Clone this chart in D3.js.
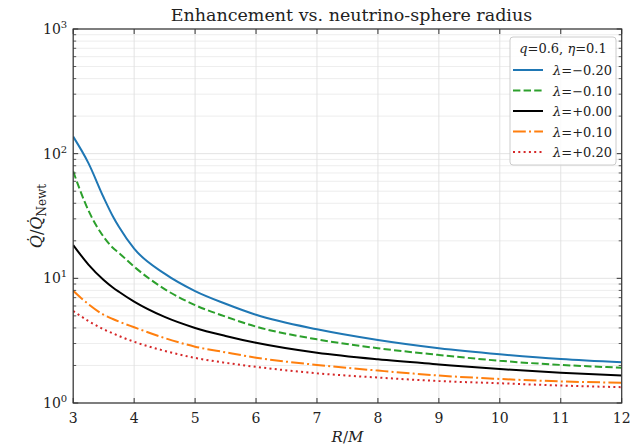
<!DOCTYPE html>
<html><head><meta charset="utf-8">
<script src="https://cdn.jsdelivr.net/npm/d3@7"></script>
<style>
body{margin:0;background:#fff;}
text{font-family:"DejaVu Serif",serif;fill:#222;}
</style></head>
<body><svg id="c" width="644" height="445"></svg>
<script>
const radii = [3, 3.25, 3.5, 3.65, 3.75, 4, 4.5, 5, 5.5, 6, 7, 8, 9, 10, 11, 12];
const lamM020 = [137, 84, 44.5, 31.5, 25.9, 17.3, 10.9, 7.9, 6.25, 5.1, 3.9, 3.2, 2.75, 2.46, 2.25, 2.12];
const lamM010 = [72, 35, 21.5, 17.6, 16.0, 12.4, 8.2, 6.1, 4.93, 4.1, 3.24, 2.75, 2.43, 2.18, 2.02, 1.92];
const lamP000 = [18.5, 12.9, 9.7, 8.45, 7.8, 6.5, 4.9, 4.0, 3.45, 3.04, 2.53, 2.24, 2.04, 1.87, 1.75, 1.66];
const lamP010 = [7.95, 6.2, 5.1, 4.72, 4.5, 4.05, 3.32, 2.83, 2.55, 2.31, 2.02, 1.82, 1.66, 1.56, 1.49, 1.455];
const lamP020 = [5.47, 4.55, 3.9, 3.62, 3.45, 3.10, 2.62, 2.3, 2.1, 1.95, 1.73, 1.60, 1.50, 1.44, 1.38, 1.34];
const seriesLabels = ["\u03bb=\u22120.20","\u03bb=\u22120.10","\u03bb=+0.00","\u03bb=+0.10","\u03bb=+0.20"];
const xTicks = [3,4,5,6,7,8,9,10,11,12];
const yMajor = [1,10,100,1000];
const yExp = ["0","1","2","3"];

const series = [
  {v:lamM020, label:seriesLabels[0], color:"#1f77b4", dash:null},
  {v:lamM010, label:seriesLabels[1], color:"#2ca02c", dash:"7.4,3.2"},
  {v:lamP000, label:seriesLabels[2], color:"#000000", dash:null},
  {v:lamP010, label:seriesLabels[3], color:"#ff7f0e", dash:"12.8,3.2,2,3.2"},
  {v:lamP020, label:seriesLabels[4], color:"#d62728", dash:"2,3.3"}
];

const L=73.2,R=621.7,T=29,B=403;
const svg=d3.select("#c");
const x=d3.scaleLinear().domain([3,12]).range([L,R]);
const y=d3.scaleLog().domain([1,1000]).range([B,T]);

const yMinor=[];
for(const d of [1,10,100]) for(let k=2;k<=9;k++) yMinor.push(d*k);

// grid
const g=svg.append("g");
g.selectAll(".gmy").data(yMinor).join("line").attr("x1",L).attr("x2",R)
  .attr("y1",d=>y(d)).attr("y2",d=>y(d)).attr("stroke","#e8e8e8").attr("stroke-width",0.8);
g.selectAll(".gMy").data(yMajor).join("line").attr("x1",L).attr("x2",R)
  .attr("y1",d=>y(d)).attr("y2",d=>y(d)).attr("stroke","#e0e0e0").attr("stroke-width",0.9);
g.selectAll(".gx").data(xTicks).join("line").attr("y1",T).attr("y2",B)
  .attr("x1",d=>x(d)).attr("x2",d=>x(d)).attr("stroke","#e0e0e0").attr("stroke-width",0.9);

// lines
svg.append("clipPath").attr("id","cp").append("rect").attr("x",L).attr("y",T).attr("width",R-L).attr("height",B-T);
const line=d3.line().x((d,i)=>x(radii[i])).y(d=>y(d)).curve(d3.curveMonotoneX);
const lg=svg.append("g").attr("clip-path","url(#cp)");
series.forEach(s=>{
  lg.append("path").attr("d",line(s.v)).attr("fill","none").attr("stroke",s.color)
    .attr("stroke-width",2).attr("stroke-dasharray",s.dash);
});

// frame
const ax="#333";
svg.append("rect").attr("x",L).attr("y",T).attr("width",R-L).attr("height",B-T)
  .attr("fill","none").attr("stroke",ax).attr("stroke-width",1.2);

// ticks
const tk=svg.append("g").attr("stroke",ax).attr("stroke-width",1);
xTicks.forEach(t=>{
  tk.append("line").attr("x1",x(t)).attr("x2",x(t)).attr("y1",B).attr("y2",B-5);
  tk.append("line").attr("x1",x(t)).attr("x2",x(t)).attr("y1",T).attr("y2",T+5);
});
yMajor.forEach(t=>{
  tk.append("line").attr("x1",L).attr("x2",L+5).attr("y1",y(t)).attr("y2",y(t));
  tk.append("line").attr("x1",R).attr("x2",R-5).attr("y1",y(t)).attr("y2",y(t));
});
yMinor.forEach(t=>{
  tk.append("line").attr("x1",L).attr("x2",L+3).attr("y1",y(t)).attr("y2",y(t)).attr("stroke-width",0.8);
  tk.append("line").attr("x1",R).attr("x2",R-3).attr("y1",y(t)).attr("y2",y(t)).attr("stroke-width",0.8);
});

// tick labels
svg.selectAll(".xl").data(xTicks).join("text").attr("x",d=>x(d)).attr("y",B+20)
  .attr("text-anchor","middle").attr("font-size",14).text(d=>d);
yMajor.forEach((t,i)=>{
  const tx=svg.append("text").attr("x",L-6).attr("y",y(t)+5).attr("text-anchor","end").attr("font-size",14);
  tx.append("tspan").text("10");
  tx.append("tspan").attr("dy",-6).attr("font-size",10).text(yExp[i]);
});

// title
svg.append("text").attr("x",(L+R)/2+4).attr("y",21).attr("text-anchor","middle").attr("font-size",17.5)
  .text("Enhancement vs. neutrino-sphere radius");

// axis labels
const xl=svg.append("text").attr("x",(L+R)/2).attr("y",442).attr("text-anchor","middle").attr("font-size",15);
xl.append("tspan").attr("font-style","italic").text("R");
xl.append("tspan").text("/");
xl.append("tspan").attr("font-style","italic").text("M");

const yl=svg.append("text").attr("transform",`translate(42,${(T+B)/2}) rotate(-90)`).attr("text-anchor","middle").attr("font-size",16);
yl.append("tspan").attr("font-style","italic").text("Q\u0307");
yl.append("tspan").text("/");
yl.append("tspan").attr("font-style","italic").text("Q\u0307");
yl.append("tspan").attr("dy",4).attr("font-size",12).text("Newt");

// legend
const lx=510, ly=37, lw=106, lh=128;
const leg=svg.append("g");
leg.append("rect").attr("x",lx).attr("y",ly).attr("width",lw).attr("height",lh).attr("rx",3)
  .attr("fill","#fff").attr("fill-opacity",0.85).attr("stroke","#ccc").attr("stroke-width",1);
const lt=leg.append("text").attr("x",lx+lw/2).attr("y",ly+16).attr("text-anchor","middle").attr("font-size",13);
lt.append("tspan").attr("font-style","italic").text("q");
lt.append("tspan").text("=0.6, ");
lt.append("tspan").attr("font-style","italic").text("\u03b7");
lt.append("tspan").text("=0.1");
series.forEach((s,i)=>{
  const yy=ly+33+i*20.5;
  leg.append("line").attr("x1",lx+3).attr("x2",lx+33).attr("y1",yy).attr("y2",yy)
    .attr("stroke",s.color).attr("stroke-width",2).attr("stroke-dasharray",s.dash);
  const t=leg.append("text").attr("x",lx+43).attr("y",yy+5).attr("font-size",13);
  t.append("tspan").attr("font-style","italic").text(s.label.slice(0,1));
  t.append("tspan").text(s.label.slice(1));
});
</script></body></html>
